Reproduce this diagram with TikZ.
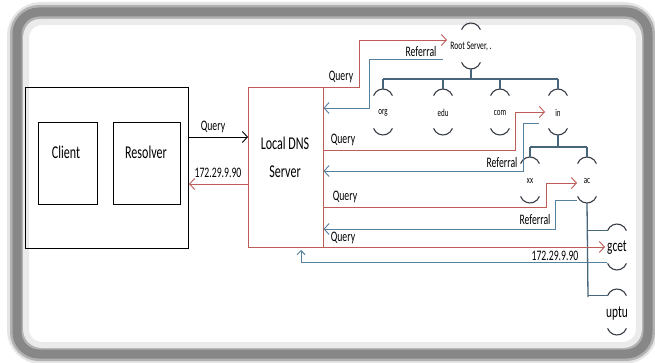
\documentclass[tikz,border=0pt]{standalone}
\usepackage{fontspec}
\setmainfont{Carlito}[FakeStretch=0.67]
\usetikzlibrary{arrows.meta}
\definecolor{qred}{RGB}{190,92,88}
\definecolor{rblue}{RGB}{85,128,158}
\definecolor{treec}{RGB}{72,102,122}
\definecolor{capc}{RGB}{55,60,70}
\definecolor{framec}{RGB}{135,135,135}
\newcommand\bigf{\fontsize{18}{20}\selectfont}
\newcommand\lblf{\fontsize{14.5}{16}\selectfont}
\newcommand\smf{\fontsize{10.5}{12}\selectfont}
\newcommand\rootf{\fontsize{11.4}{13}\selectfont}
\newcommand\gf{\fontsize{17}{19}\selectfont}
\tikzset{
  capline/.style={draw=capc,line width=1.1pt},
  srv/.pic={
    \node[inner sep=0pt] (-t) at (0,0) {#1};
    \draw[capline] (-9.4,-17.4) arc[start angle=200,end angle=340,radius=10];
    \draw[capline] (-9.4,15.4) arc[start angle=160,end angle=20,radius=10];
    \coordinate (-top) at (0,-24);
    \coordinate (-bot) at (0,22);
    \coordinate (-tl) at (-9.4,-17.4);
  }
}
\begin{document}
\begin{tikzpicture}[x=1pt,y=-1pt,
  qline/.style={draw=qred,line width=0.9pt},
  rline/.style={draw=rblue,line width=0.9pt},
  tip/.style={-{Straight Barb[length=5pt,width=11pt]}},
  lbl/.style={font=\lblf,inner sep=0pt},
  big/.style={font=\bigf,inner sep=0pt},
  hostbox/.style={draw=black,line width=0.9pt},
  treeline/.style={draw=treec,line width=1.7pt},
  stem/.style={draw=treec,line width=1.3pt},
]
\useasboundingbox (0,0) rectangle (655,363);
\fill[white] (0,0) rectangle (655,363);
% frame
\draw[black!10,line width=20pt,rounded corners=24pt] (17,12) rectangle (648,354);
\draw[black!30,line width=14pt,rounded corners=22pt] (17,12) rectangle (648,354);
\draw[framec,line width=9pt,rounded corners=22pt] (17,12) rectangle (648,354);
\draw[black!8,line width=6pt,rounded corners=16pt] (26,22) rectangle (639,345);

% host side
\node[hostbox,minimum width=163pt,minimum height=161pt,inner sep=0pt] (host) at (106.5,167.5) {};
\node[hostbox,minimum width=59pt,minimum height=82pt,inner sep=0pt] (clientbox) at (67.5,163) {};
\node[hostbox,minimum width=67pt,minimum height=82pt,inner sep=0pt] (resbox) at (146.5,163) {};
\node[big] (client) at (66,152) {Client};
\node[big] (resolver) at (146,152) {Resolver};

% local DNS
\node[draw=qred,line width=0.9pt,minimum width=75pt,minimum height=160pt,inner sep=0pt] (dns) at (285.5,167) {};
\node[big] (dns1) at (285,143) {Local DNS};
\node[big] (dns2) at (285,172) {Server};

\coordinate (q0s) at (188.5,137); \coordinate (q0e) at (248,137);
\draw[black,line width=0.9pt,tip] (q0s) -- (q0e);
\node[lbl] (lq0) at (213,127) {Query};
\coordinate (a0s) at (248,184); \coordinate (a0e) at (189,184);
\draw[qline,tip] (a0s) -- (a0e);
\node[lbl] (la0) at (218,173) {172.29.9.90};

% servers
\pic (root) at (471,47) {srv={\rootf Root Server, .}};
\pic (org) at (383,113) {srv={\smf org}};
\pic (edu) at (443,113) {srv={\smf edu}};
\pic (com) at (500,113) {srv={\smf com}};
\pic (in) at (558,113) {srv={\smf in}};
\pic (xx) at (530,181) {srv={\smf xx}};
\pic (ac) at (587,181) {srv={\smf ac}};
\pic (gcet) at (617,248) {srv={\gf gcet}};
\pic (uptu) at (617,313) {srv={\gf uptu}};

% tree
\coordinate (b1l) at (383,79); \coordinate (b1r) at (558,79); \coordinate (b1m) at (471,79);
\draw[treeline] (b1l) -- (b1r);
\draw[stem] (root-bot) -- (b1m);
\foreach \n in {org,edu,com,in} \draw[stem] (\n-top |- b1l) -- (\n-top);
\coordinate (b2l) at (530,147); \coordinate (b2r) at (587,147); \coordinate (b2m) at (558,147);
\draw[treeline] (b2l) -- (b2r);
\draw[stem] (in-bot) -- (b2m);
\foreach \n in {xx,ac} \draw[stem] (\n-top |- b2l) -- (\n-top);
\coordinate (acv) at (588,297);
\draw[stem] (ac-bot) -- (acv);
\draw[stem] (gcet-tl -| acv) -- (gcet-tl);
\draw[stem] (uptu-tl -| acv) -- (uptu-tl);

% queries (red)
\coordinate (q1s) at (323,87); \coordinate (q1e) at (447,40);
\draw[qline,tip] (q1s) -- ++(36,0) |- (q1e);
\coordinate (q2s) at (323,150); \coordinate (q2e) at (545,112);
\draw[qline,tip] (q2s) -- ++(192,0) |- (q2e);
\coordinate (q3s) at (323,207); \coordinate (q3e) at (577,183);
\draw[qline,tip] (q3s) -- ++(223,0) |- (q3e);
\coordinate (q4s) at (323,247); \coordinate (q4e) at (605,247);
\draw[qline,tip] (q4s) -- (q4e);

% referrals (blue)
\coordinate (r1s) at (443,59); \coordinate (r1c) at (369,108); \coordinate (r1e) at (323.5,108);
\draw[rline,tip] (r1s) -| (r1c) -- (r1e);
\coordinate (r2s) at (539,123); \coordinate (r2c) at (523,171); \coordinate (r2e) at (323.5,171);
\draw[rline,tip] (r2s) -| (r2c) -- (r2e);
\coordinate (r3s) at (577,200); \coordinate (r3c) at (555,229); \coordinate (r3e) at (323.5,229);
\draw[rline,tip] (r3s) -| (r3c) -- (r3e);
\coordinate (r4s) at (607,262); \coordinate (r4e) at (301,250);
\draw[rline,-{Straight Barb[length=4pt,width=8pt]}] (r4s) -| (r4e);

% labels
\node[lbl] (l1) at (341,77) {Query};
\node[lbl] (l2) at (421,52) {Referral};
\node[lbl] (l3) at (343,140) {Query};
\node[lbl] (l4) at (502,163) {Referral};
\node[lbl] (l5) at (345,197) {Query};
\node[lbl] (l6) at (535,220) {Referral};
\node[lbl] (l7) at (343,238) {Query};
\node[lbl] (l8) at (555,256) {172.29.9.90};
\end{tikzpicture}
\end{document}
